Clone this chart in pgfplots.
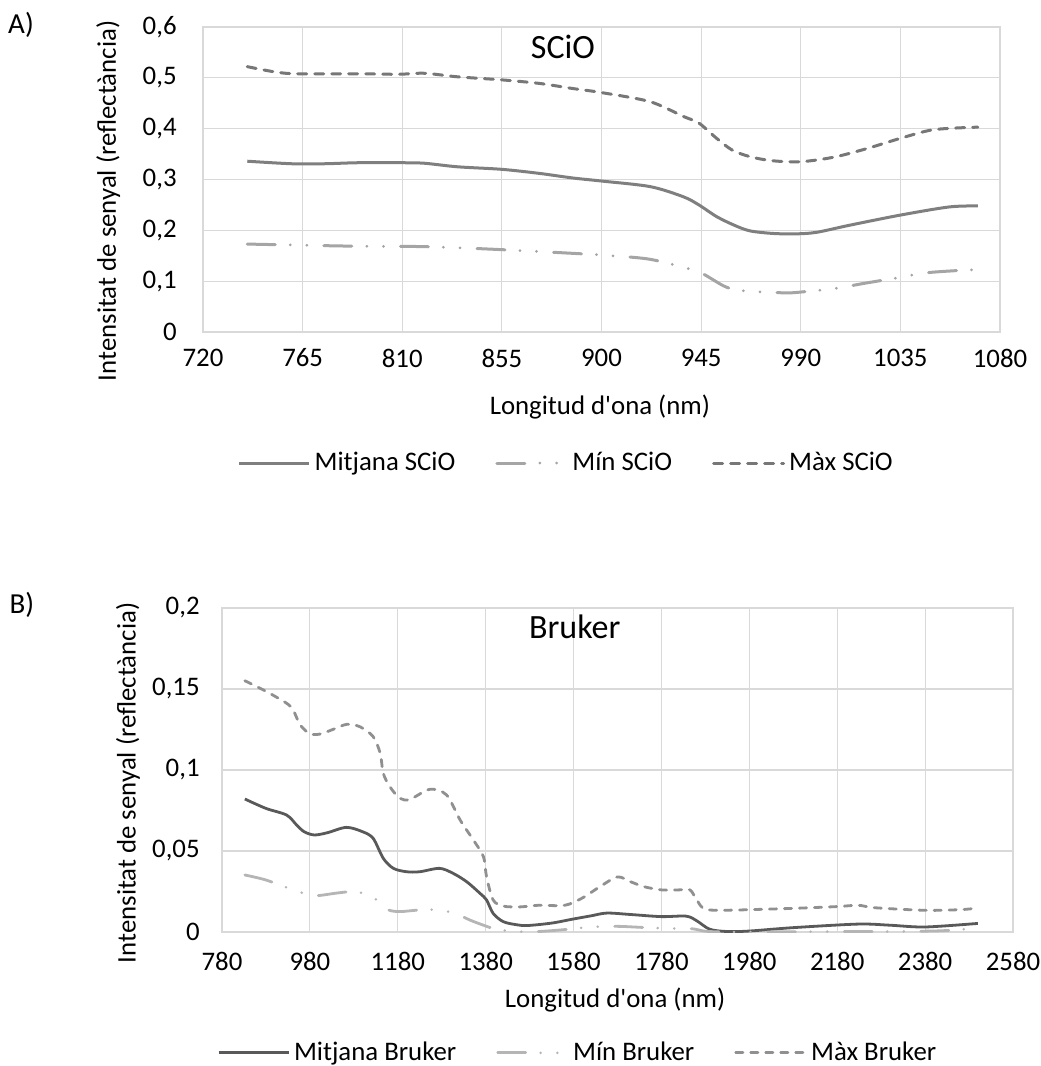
\documentclass[border=0pt]{standalone}
\usepackage{fontspec}
\setmainfont{Carlito}
\usepackage{pgfplots}
\pgfplotsset{compat=1.18}
\definecolor{gridc}{HTML}{D9D9D9}
\definecolor{scioMean}{HTML}{7F7F7F}
\definecolor{scioMin}{HTML}{A5A5A5}
\definecolor{scioMax}{HTML}{777777}
\definecolor{brMean}{HTML}{595959}
\definecolor{brMin}{HTML}{B5B5B5}
\definecolor{brMax}{HTML}{909090}

\pgfplotstableread{
x y
740 0.336
760 0.331
775 0.331
790 0.333
810 0.333
820 0.332
835 0.325
855 0.320
872 0.312
887 0.303
900 0.297
922 0.286
937 0.266
944 0.250
952 0.227
960 0.210
967 0.199
977 0.194
987 0.193
997 0.196
1012 0.210
1035 0.230
1057 0.246
1070 0.248
}\scioMean
\pgfplotstableread{
x y
740 0.173
786 0.169
819 0.168
850 0.163
886 0.155
905 0.150
922 0.143
939 0.125
946 0.114
956 0.089
964 0.081
983 0.077
991 0.079
1006 0.086
1019 0.096
1033 0.106
1048 0.117
1070 0.123
}\scioMin
\pgfplotstableread{
x y
740 0.522
752 0.512
762 0.508
790 0.508
808 0.507
820 0.509
835 0.502
855 0.496
872 0.489
887 0.479
900 0.471
922 0.453
937 0.424
944 0.411
952 0.381
959 0.358
967 0.345
977 0.337
990 0.335
1005 0.344
1020 0.361
1035 0.381
1050 0.398
1070 0.403
}\scioMax
\pgfplotstableread{
x y
832 0.0821
880 0.0763
927 0.0722
950 0.0660
967 0.0619
990 0.0599
1020 0.0613
1063 0.0646
1100 0.0619
1124 0.0578
1147 0.0455
1170 0.0393
1200 0.0372
1230 0.0372
1275 0.0393
1306 0.0362
1337 0.0310
1367 0.0239
1382 0.0198
1397 0.0115
1420 0.0064
1450 0.0045
1475 0.0040
1530 0.0055
1579 0.0080
1620 0.0100
1656 0.0117
1710 0.0108
1780 0.0095
1836 0.0098
1860 0.0070
1890 0.0017
1930 0.0003
1980 0.0006
2080 0.0027
2228 0.0049
2300 0.0042
2380 0.0031
2500 0.0053
}\brMean
\pgfplotstableread{
x y
832 0.0352
880 0.0321
943 0.0259
980 0.0228
1003 0.0226
1040 0.0240
1079 0.0249
1117 0.0228
1140 0.0177
1159 0.0136
1185 0.0126
1230 0.0136
1276 0.0136
1314 0.0111
1344 0.0074
1374 0.0043
1405 0.0016
1450 0.0003
1500 0.0003
1560 0.0015
1620 0.0031
1680 0.0035
1740 0.0028
1800 0.0022
1850 0.0020
1880 0.0005
1930 0.0000
2050 0.0001
2180 0.0003
2300 0.0003
2420 0.0008
2500 0.0025
}\brMin
\pgfplotstableread{
x y
832 0.1551
882 0.1483
927 0.1412
942 0.1370
958 0.1278
980 0.1224
1003 0.1222
1033 0.1251
1064 0.1282
1094 0.1267
1124 0.1206
1140 0.1103
1147 0.0980
1162 0.0897
1185 0.0825
1208 0.0819
1253 0.0881
1291 0.0846
1322 0.0691
1352 0.0568
1375 0.0465
1382 0.0341
1397 0.0198
1420 0.0160
1458 0.0155
1500 0.0165
1560 0.0165
1600 0.0210
1640 0.0280
1680 0.0340
1710 0.0310
1740 0.0280
1780 0.0260
1820 0.0260
1845 0.0260
1860 0.0200
1880 0.0140
1940 0.0135
1980 0.0138
2080 0.0146
2180 0.0157
2228 0.0165
2265 0.0150
2380 0.0134
2460 0.0138
2500 0.0148
}\brMax

\newcommand{\lblfont}{\fontsize{13.4}{16}\selectfont}
\begin{document}
\lblfont
\begin{tikzpicture}
\useasboundingbox (0,0) rectangle (520pt,-533pt);
\pgfplotsset{
  common/.style={
    scale only axis, anchor=south west,
    grid=major, major grid style={draw=gridc, line width=0.6pt},
    axis line style={draw=gridc, line width=0.6pt},
    major tick length=0pt, tick style={draw=none},
    /pgf/number format/assume math mode=true,
    tick label style={font=\lblfont},
    label style={font=\lblfont},
    xticklabel style={anchor=center, inner sep=0pt, /pgf/number format/1000 sep={}},
    yticklabel style={anchor=east, inner sep=0pt, /pgf/number format/fixed, /pgf/number format/precision=2, /pgf/number format/use comma},
    scaled y ticks=false, scaled x ticks=false,
    legend columns=3,
    legend style={draw=none, fill=none, anchor=center, font=\lblfont,
      /tikz/every even column/.append style={column sep=18pt}},
    legend image code/.code={\draw[##1] (0pt,0pt) -- (35pt,0pt);},
    every axis plot/.append style={smooth, line join=round},
  },
  mindash/.style={dash pattern=on 14pt off 7.5pt on 0pt off 8.3pt on 0pt off 8.5pt, line cap=round},
}
% ---------- A) SCiO ----------
\begin{axis}[common,
  at={(101.5pt,-166pt)}, width=398.5pt, height=152.5pt,
  xmin=720, xmax=1080, xtick={720,765,810,855,900,945,990,1035,1080},
  ymin=0, ymax=0.6, ytick={0,0.1,0.2,0.3,0.4,0.5,0.6},
  yticklabel style={xshift=-13pt},
  xticklabel style={yshift=-13pt},
  xlabel={Longitud d\textquotesingle ona (nm)},
  xlabel style={at={(axis description cs:0.498,-0.246)}, anchor=center},
  ylabel={Intensitat de senyal (reflectància)},
  ylabel style={at={(axis description cs:-0.119,0.43)}, anchor=center},
  title={SCiO},
  title style={at={(axis description cs:0.4517,0.895)}, anchor=center, font=\fontsize{17}{20}\selectfont},
  legend style={at={(axis description cs:0.457,-0.4295)}},
]
\addplot[scioMean, line width=1.5pt] table {\scioMean};
\addlegendentry{Mitjana SCiO}
\addplot[scioMin, line width=1.5pt, mindash] table {\scioMin};
\addlegendentry{Mín SCiO}
\addplot[scioMax, line width=1.5pt, dash pattern=on 4.5pt off 4pt, line cap=round] table {\scioMax};
\addlegendentry{Màx SCiO}
\end{axis}
% ---------- B) Bruker ----------
\begin{axis}[common,
  at={(111pt,-466pt)}, width=395.5pt, height=162pt,
  xmin=780, xmax=2580, xtick={780,980,1180,1380,1580,1780,1980,2180,2380,2580},
  ymin=0, ymax=0.2, ytick={0,0.05,0.1,0.15,0.2},
  yticklabel style={xshift=-11pt},
  xticklabel style={yshift=-14.5pt},
  xlabel={Longitud d\textquotesingle ona (nm)},
  xlabel style={at={(axis description cs:0.497,-0.21)}, anchor=center},
  ylabel={Intensitat de senyal (reflectància)},
  ylabel style={at={(axis description cs:-0.119,0.46)}, anchor=center},
  title={Bruker},
  title style={at={(axis description cs:0.446,0.904)}, anchor=center, font=\fontsize{17}{20}\selectfont},
  legend style={at={(axis description cs:0.451,-0.373)}},
]
\addplot[brMean, line width=1.4pt] table {\brMean};
\addlegendentry{Mitjana Bruker}
\addplot[brMin, line width=1.4pt, mindash] table {\brMin};
\addlegendentry{Mín Bruker}
\addplot[brMax, line width=1.4pt, dash pattern=on 3.6pt off 3.9pt, line cap=round] table {\brMax};
\addlegendentry{Màx Bruker}
\end{axis}
\node[font=\fontsize{14.5}{17}\selectfont] at (10.5pt,-12.5pt) {A)};
\node[font=\fontsize{14.5}{17}\selectfont] at (11pt,-302.5pt) {B)};
\end{tikzpicture}
\end{document}
